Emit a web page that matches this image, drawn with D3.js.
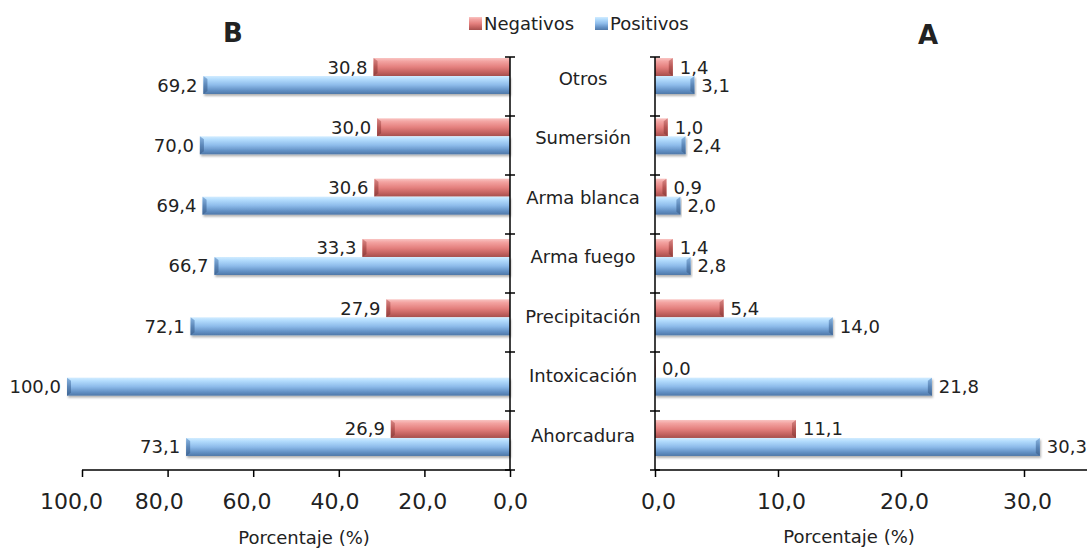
<!DOCTYPE html>
<html><head><meta charset="utf-8">
<script src="https://cdn.jsdelivr.net/npm/d3@7"></script>
<style>
body{margin:0;background:#fff;}
text{font-family:"DejaVu Sans",sans-serif;fill:#222;}
</style></head>
<body><svg id="chart" width="1089" height="548"></svg>
<script>
const categories = ["Otros","Sumersión","Arma blanca","Arma fuego","Precipitación","Intoxicación","Ahorcadura"];
// Panel B (left)
const negB = [30.8, 30.0, 30.6, 33.3, 27.9, null, 26.9];
const posB = [69.2, 70.0, 69.4, 66.7, 72.1, 100.0, 73.1];
// Panel A (right)
const negA = [1.4, 1.0, 0.9, 1.4, 5.4, 0.0, 11.1];
const posA = [3.1, 2.4, 2.0, 2.8, 14.0, 21.8, 30.3];
const ticksB = [100, 80, 60, 40, 20, 0];
const ticksA = [0, 10, 20, 30];
const seriesNames = ["Negativos","Positivos"];
const fmt = v => d3.format(".1f")(v).replace(".", ",");

const svg = d3.select("#chart");
const defs = svg.append("defs");
function grad(id, stops){
  const g = defs.append("linearGradient").attr("id", id).attr("x1",0).attr("y1",0).attr("x2",0).attr("y2",1);
  stops.forEach(s => g.append("stop").attr("offset", s[0]).attr("stop-color", s[1]));
}
grad("gNeg", [[0,"#f9c4c2"],[0.18,"#f3a3a1"],[0.5,"#e4807e"],[0.8,"#c2615f"],[1,"#a54f4d"]]);
grad("gPos", [[0,"#d2ecff"],[0.18,"#b3dcfd"],[0.5,"#8dbbea"],[0.8,"#6290c4"],[1,"#4f78a8"]]);
grad("gNegCap", [[0,"#d98886"],[0.5,"#b65654"],[1,"#8f3f3d"]]);
grad("gPosCap", [[0,"#8ab6e2"],[0.5,"#5c87b8"],[1,"#3f6594"]]);
const f = defs.append("filter").attr("id","shadow").attr("x","-5%").attr("y","-20%").attr("width","110%").attr("height","160%");
f.append("feDropShadow").attr("dx",1).attr("dy",2).attr("stdDeviation",1.2).attr("flood-color","#000").attr("flood-opacity",0.3);

// vertical scales
const yTick = d3.scaleBand().domain(categories).range([57, 470]);
const yBar = d3.scaleBand().domain(categories).range([49, 49 + 7*60.33]);
const yLabel = d3.scaleBand().domain(categories).range([48.25, 48.25 + 7*59.5]);
const barH = 18, barOff = 9;

// horizontal scales
const xBTick = d3.scaleLinear().domain([0,100]).range([510, 82]);
const xBLabel = d3.scaleLinear().domain([0,100]).range([510, 71]);
const xBBar = d3.scaleLinear().domain([0,100]).range([510, 67]);
const xATick = d3.scaleLinear().domain([0,30]).range([655, 1024]);
const xALabel = d3.scaleLinear().domain([0,30]).range([658, 1027]);
const xABar = d3.scaleLinear().domain([0,30]).range([655, 1036]);

function drawBars(vals, series, xBar, dir){
  const x0 = xBar(0);
  const g = svg.append("g");
  vals.forEach((v, i) => {
    if (v === null) return;
    const c = categories[i];
    const y = yBar(c) + barOff + (series === 1 ? barH : 0);
    const x1 = xBar(v);
    const left = Math.min(x0, x1), w = Math.abs(x1 - x0);
    const gg = g.append("g").attr("filter", series === 1 ? "url(#shadow)" : null);
    gg.append("rect").attr("x", left).attr("y", y).attr("width", Math.max(w, 0.8)).attr("height", barH)
      .attr("fill", series === 0 ? "url(#gNeg)" : "url(#gPos)");
    if (w > 6) {
      const cw = 4;
      const ex = dir > 0 ? x1 - cw : x1;
      const pts = dir > 0
        ? [[ex, y+3],[ex+cw, y],[ex+cw, y+barH],[ex, y+barH-3]]
        : [[ex, y],[ex+cw, y+3],[ex+cw, y+barH-3],[ex, y+barH]];
      gg.append("polygon").attr("points", pts.map(p=>p.join(",")).join(" "))
        .attr("fill", series === 0 ? "url(#gNegCap)" : "url(#gPosCap)");
    }
    const lx = dir > 0 ? x1 + 7 : x1 - 6;
    g.append("text").attr("x", lx).attr("y", y + barH/2 + 6.5)
      .attr("text-anchor", dir > 0 ? "start" : "end")
      .attr("font-size", 18).text(fmt(v));
  });
}

drawBars(negB, 0, xBBar, -1);
drawBars(posB, 1, xBBar, -1);
drawBars(negA, 0, xABar, 1);
drawBars(posA, 1, xABar, 1);

function catAxis(x){
  const g = svg.append("g").attr("stroke", "#000").attr("stroke-width", 1.5);
  g.append("line").attr("x1", x).attr("x2", x).attr("y1", 57).attr("y2", 470);
  const bounds = categories.map(c => yTick(c)).concat([yTick.range()[1]]);
  bounds.forEach(b => g.append("line").attr("x1", x-5).attr("x2", x+5).attr("y1", b).attr("y2", b));
}

function valAxis(scaleTick, scaleLabel, ticks, lineFrom, lineTo){
  const g = svg.append("g").attr("transform", "translate(0,470)");
  const ax = d3.axisBottom(scaleTick).tickValues(ticks).tickSize(7).tickSizeOuter(0).tickPadding(0).tickFormat(fmt);
  g.call(ax);
  g.select(".domain").remove();
  g.append("line").attr("x1", lineFrom).attr("x2", lineTo).attr("y1", 0).attr("y2", 0)
    .attr("stroke", "#000").attr("stroke-width", 1.5);
  g.selectAll(".tick line").attr("stroke", "#000").attr("stroke-width", 1.5);
  g.selectAll(".tick text")
    .attr("x", d => scaleLabel(d) - scaleTick(d))
    .attr("y", 39).attr("dy", null)
    .attr("font-size", 22).attr("font-family", "DejaVu Sans").attr("fill", "#222");
}
valAxis(xBTick, xBLabel, ticksB, 82, 510);
valAxis(xATick, xALabel, ticksA, 655, 1087);
catAxis(510);
catAxis(655);

svg.append("g").selectAll("text").data(categories).join("text")
  .attr("x", 583).attr("y", c => yLabel(c) + yLabel.bandwidth()/2 + 6.5)
  .attr("text-anchor", "middle").attr("font-size", 18).text(c => c);

svg.append("text").attr("x", 304).attr("y", 544).attr("text-anchor", "middle").attr("font-size", 18).text("Porcentaje (%)");
svg.append("text").attr("x", 849).attr("y", 543).attr("text-anchor", "middle").attr("font-size", 18).text("Porcentaje (%)");

svg.append("text").attr("x", 233).attr("y", 42).attr("text-anchor", "middle").attr("font-size", 26).attr("font-weight", "bold").attr("fill", "#000").text("B");
svg.append("text").attr("x", 928).attr("y", 44).attr("text-anchor", "middle").attr("font-size", 26).attr("font-weight", "bold").attr("fill", "#000").text("A");

const leg = svg.append("g");
const legX = [469, 595];
seriesNames.forEach((s, i) => {
  leg.append("rect").attr("x", legX[i]).attr("y", 17).attr("width", 13).attr("height", 13)
    .attr("fill", i === 0 ? "url(#gNeg)" : "url(#gPos)");
  leg.append("text").attr("x", legX[i] + 15).attr("y", 30).attr("font-size", 18).text(s);
});
</script></body></html>
